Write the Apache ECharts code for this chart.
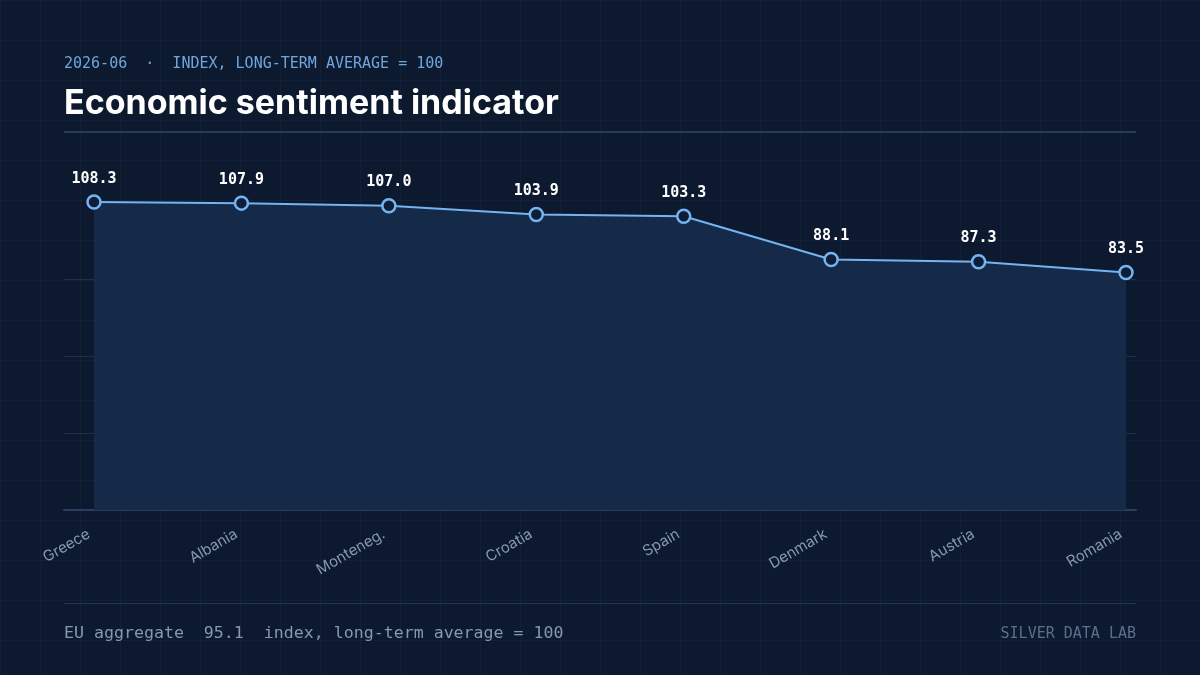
<!DOCTYPE html>
<html>
<head>
<meta charset="utf-8">
<script src="https://cdn.jsdelivr.net/npm/echarts@6/dist/echarts.min.js"></script>
<style>
  html, body { margin: 0; padding: 0; }
  body {
    width: 1200px; height: 675px;
    background-color: #0c192f;
    background-image:
      linear-gradient(rgba(120,150,200,0.05) 1px, transparent 1px),
      linear-gradient(90deg, rgba(120,150,200,0.05) 1px, transparent 1px);
    background-size: 40px 40px;
  }
  #chart { width: 1200px; height: 675px; }
</style>
</head>
<body>
<div id="chart"></div>
<script>
const countries = ['Greece', 'Albania', 'Montenegro', 'Croatia', 'Spain', 'Denmark', 'Austria', 'Romania'];
const sentiment = [108.3, 107.9, 107.0, 103.9, 103.3, 88.1, 87.3, 83.5];
const euAggregate = 95.1;

const mono = '"DejaVu Sans Mono", monospace';
const sans = 'Inter, "Noto Sans", sans-serif';

const yMax = Math.max(...sentiment);
const yInterval = yMax / 4;

let myChart = echarts.init(document.getElementById('chart'), null, { renderer: 'canvas' });

let option = {
  animation: false,
  backgroundColor: 'transparent',
  grid: [
    { left: 94, right: 74, top: 202, bottom: 165 },
    { left: 64, right: 64, top: 202, bottom: 165 }
  ],
  xAxis: [
    {
      type: 'category',
      gridIndex: 0,
      data: countries,
      boundaryGap: false,
      axisLine: { show: false },
      axisTick: { show: false },
      splitLine: { show: false },
      axisLabel: {
        rotate: 30,
        margin: 20,
        padding: [0, 6, 0, 0],
        color: '#8797b2',
        fontFamily: sans,
        fontSize: 15,
        formatter: (v) => v.length > 9 ? v.slice(0, 8) + '.' : v
      }
    },
    {
      type: 'value',
      gridIndex: 1,
      min: 0,
      max: 1,
      axisLine: { show: true, onZero: false, lineStyle: { color: '#2c3e60', width: 2 } },
      axisTick: { show: false },
      axisLabel: { show: false },
      splitLine: { show: false }
    }
  ],
  yAxis: [
    {
      type: 'value',
      gridIndex: 0,
      min: 0,
      max: yMax,
      interval: yInterval,
      axisLine: { show: false },
      axisTick: { show: false },
      axisLabel: { show: false },
      splitLine: { show: false }
    },
    {
      type: 'value',
      gridIndex: 1,
      min: 0,
      max: yMax,
      interval: yInterval,
      axisLine: { show: false },
      axisTick: { show: false },
      axisLabel: { show: false },
      splitLine: { show: true, showMaxLine: false, lineStyle: { color: '#1f2e4b', width: 1 } }
    }
  ],
  series: [
    {
      name: 'Economic sentiment',
      type: 'line',
      xAxisIndex: 0,
      yAxisIndex: 0,
      data: sentiment,
      symbol: 'circle',
      symbolSize: 13,
      showAllSymbol: true,
      lineStyle: { color: '#74b4f2', width: 2 },
      itemStyle: { color: '#0f1d36', borderColor: '#74b4f2', borderWidth: 2.5 },
      areaStyle: { color: '#152a48', opacity: 1 },
      label: {
        show: true,
        position: 'top',
        distance: 8,
        color: '#ffffff',
        fontFamily: mono,
        fontWeight: 'bold',
        fontSize: 15,
        formatter: (p) => p.value.toFixed(1)
      }
    }
  ],
  graphic: [
    {
      type: 'text', left: 64, top: 57,
      style: {
        text: '2026-06  ·  INDEX, LONG-TERM AVERAGE = 100',
        fill: '#6fa6dc', font: '15px ' + mono
      }
    },
    {
      type: 'text', left: 64, top: 87,
      style: {
        text: 'Economic sentiment indicator',
        fill: '#ffffff', font: 'bold 34px ' + sans
      }
    },
    {
      type: 'rect', shape: { x: 64, y: 131, width: 1072, height: 2 },
      style: { fill: '#2a3a5a' }
    },
    {
      type: 'rect', shape: { x: 64, y: 603, width: 1072, height: 1 },
      style: { fill: '#243452' }
    },
    {
      type: 'text', left: 64, top: 625,
      style: {
        text: 'EU aggregate  ' + euAggregate.toFixed(1) + '  index, long-term average = 100',
        fill: '#8797b2', font: '16.6px ' + mono
      }
    },
    {
      type: 'text', right: 64, top: 627,
      style: {
        text: 'SILVER DATA LAB',
        fill: '#5d6f8c', font: '15px ' + mono
      }
    }
  ]
};

myChart.setOption(option);

window.addEventListener('resize', function() {
  myChart.resize();
});
</script>
</body>
</html>
